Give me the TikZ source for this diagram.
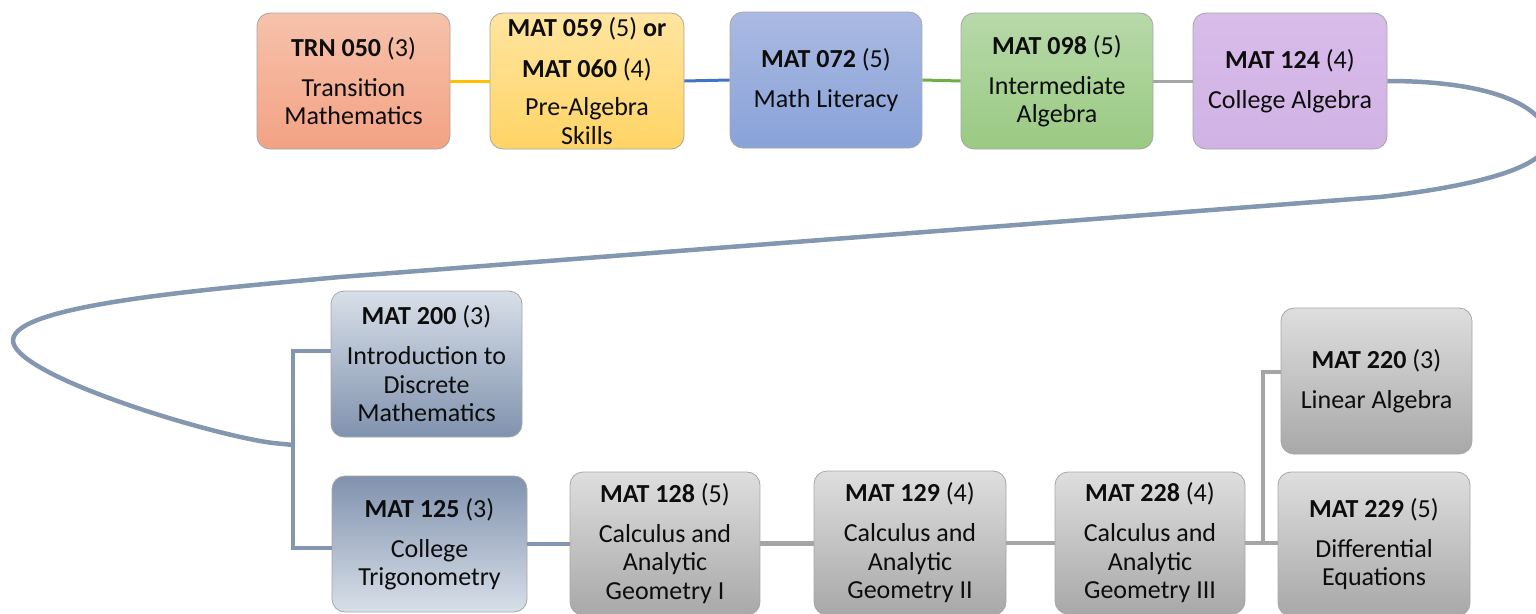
\documentclass[tikz,border=0pt]{standalone}
\usepackage{fontspec}
\setmainfont{Carlito}
\usetikzlibrary{calc}
\definecolor{trnT}{HTML}{F6C2AC}
\definecolor{trnB}{HTML}{F3A283}
\definecolor{yelT}{HTML}{FFE5A0}
\definecolor{yelB}{HTML}{FFD465}
\definecolor{bluT}{HTML}{AABAE2}
\definecolor{bluB}{HTML}{89A2D8}
\definecolor{grnT}{HTML}{B7D9A9}
\definecolor{grnB}{HTML}{9ACA82}
\definecolor{purT}{HTML}{D8BCE9}
\definecolor{purB}{HTML}{D1B2E5}
\definecolor{bgL}{HTML}{D8DFE8}
\definecolor{bgD}{HTML}{8092AE}
\definecolor{gyT}{HTML}{DEDEDE}
\definecolor{gyB}{HTML}{A8A8A8}
\definecolor{cYel}{HTML}{FFC000}
\definecolor{cBlu}{HTML}{4472C4}
\definecolor{cGrn}{HTML}{70AD47}
\definecolor{cGry}{HTML}{A5A5A5}
\definecolor{cBG}{HTML}{8497B0}
\tikzset{
  box/.style={rounded corners=13pt, draw=black!35, line width=0.8pt,
    align=center, inner sep=0pt, text=black!95,
    font=\fontsize{26}{28.5}\selectfont},
  topbox/.style={box, minimum width=193pt, minimum height=136pt},
  lowbox/.style={box, minimum width=191pt, minimum height=145pt},
  thinlink/.style={line width=3pt},
  thicklink/.style={line width=4.5pt},
  curvelink/.style={line width=4.5pt, draw=cBG}
}
\begin{document}
\begin{tikzpicture}[x=1pt,y=-1pt]
\clip (0,0) rectangle (1536,613);
% top row
\node[topbox, top color=trnT, bottom color=trnB] (trn) at (353.5,81) {\textbf{TRN 050} (3)\\[11.5pt]Transition\\Mathematics};
\node[topbox, top color=yelT, bottom color=yelB, minimum width=194pt] (m059) at (587,81) {\textbf{MAT 059} (5) \textbf{or}\\[12pt]\textbf{MAT 060} (4)\\[10pt]Pre-Algebra\\Skills};
\node[topbox, top color=bluT, bottom color=bluB, minimum width=192pt] (m072) at (826,80) {\textbf{MAT 072} (5)\\[11.5pt]Math Literacy};
\node[topbox, top color=grnT, bottom color=grnB, minimum width=192pt] (m098) at (1057,81) {\textbf{MAT 098} (5)\\[11.5pt]Intermediate\\Algebra};
\node[topbox, top color=purT, bottom color=purB, minimum width=194pt] (m124) at (1290,81) {\textbf{MAT 124} (4)\\[11.5pt]College Algebra};
% lower boxes
\node[lowbox, top color=bgL, bottom color=bgD, minimum height=146pt] (m200) at (426.5,364) {\textbf{MAT 200} (3)\\[11.5pt]Introduction to\\Discrete\\Mathematics};
\node[lowbox, top color=bgD, bottom color=bgL, minimum width=195pt, minimum height=136pt] (m125) at (429.5,544) {\textbf{MAT 125} (3)\\[11.5pt]College\\Trigonometry};
\node[lowbox, top color=gyT, bottom color=gyB, minimum width=190pt, minimum height=143pt] (m128) at (665,543.5) {\textbf{MAT 128} (5)\\[11.5pt]Calculus and\\Analytic\\Geometry I};
\node[lowbox, top color=gyT, bottom color=gyB, minimum width=192pt, minimum height=144pt] (m129) at (910,543) {\textbf{MAT 129} (4)\\[11.5pt]Calculus and\\Analytic\\Geometry II};
\node[lowbox, top color=gyT, bottom color=gyB, minimum width=190pt, minimum height=142pt] (m228) at (1150,543) {\textbf{MAT 228} (4)\\[11.5pt]Calculus and\\Analytic\\Geometry III};
\node[lowbox, top color=gyT, bottom color=gyB, minimum height=146pt] (m220) at (1376.5,381) {\textbf{MAT 220} (3)\\[11.5pt]Linear Algebra};
\node[lowbox, top color=gyT, bottom color=gyB, minimum width=192pt, minimum height=144pt] (m229) at (1374,544) {\textbf{MAT 229} (5)\\[11.5pt]Differential\\Equations};
% junction points
\coordinate (j1) at (293,445);
\coordinate (j2) at (1263,543);
% top connectors
\draw[thinlink, cYel] (trn.east) -- (m059.west);
\draw[thinlink, cBlu] (m059.east) -- (m072.west);
\draw[thinlink, cGrn] (m072.east) -- (m098.west);
\draw[thinlink, cGry] (m098.east) -- (m124.west);
% long curve
\draw[curvelink] (m124.east) .. controls (1500,81) and (1548,110) .. (1548,140)
  .. controls (1548,170) and (1460,188) .. (1380,197) -- (340,277)
  .. controls (200,290) and (15,305) .. (13,340)
  .. controls (12,375) and (210,435) .. (273,443) -- (j1);
% bracket to MAT 200 / MAT 125
\draw[curvelink] ($(m200.west)+(0,-13)$) -| (j1);
\draw[curvelink] ($(m125.west)+(0,4)$) -| (j1);
% bottom row
\draw[thicklink, cBG] (m125.east) -- (m125.east -| m128.west);
\draw[thicklink, cGry] (m128.east) -- (m128.east -| m129.west);
\draw[thicklink, cGry] (m129.east) -- (m129.east -| m228.west);
\draw[thicklink, cGry] (m228.east) -- (m228.east -| m229.west);
\draw[thicklink, cGry] (j2) |- ($(m220.west)+(0,-9)$);
\end{tikzpicture}
\end{document}
